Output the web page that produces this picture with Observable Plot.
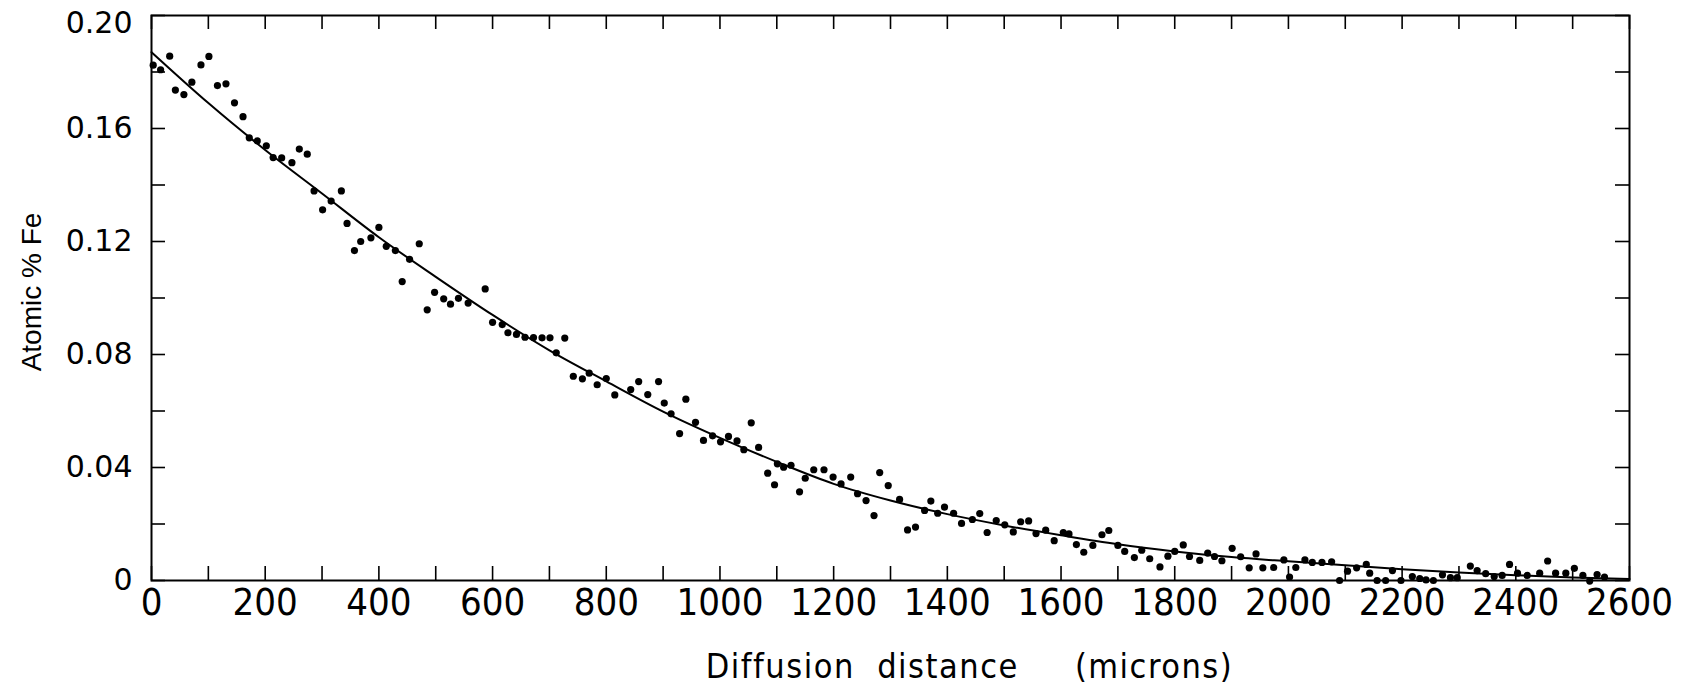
<!DOCTYPE html>
<html>
<head>
<meta charset="utf-8">
<script src="https://cdn.jsdelivr.net/npm/d3@7"></script>
<script src="https://cdn.jsdelivr.net/npm/@observablehq/plot@0.6"></script>
<style>
  html, body { margin: 0; padding: 0; background: #fff; }
  #chart svg { display: block; }
</style>
</head>
<body>
<div id="chart"></div>
<script>
// Measured points: diffusion distance (microns) and atomic % Fe
const distance = [3,16,32,42,57,71,87,101,116,131,146,161,172,186,202,214,229,247,260,274,286,301,316,334,344,357,368,386,400,413,429,441,454,471,485,498,514,526,540,557,587,600,617,627,642,657,672,687,701,712,727,742,758,770,784,800,815,843,857,873,892,902,914,929,940,957,971,987,1001,1015,1030,1042,1055,1068,1084,1096,1101,1112,1125,1140,1150,1165,1183,1199,1213,1230,1242,1257,1271,1281,1296,1316,1330,1344,1360,1371,1383,1395,1411,1425,1444,1457,1470,1486,1501,1516,1529,1543,1556,1573,1588,1604,1614,1627,1640,1656,1672,1684,1700,1712,1729,1742,1756,1774,1788,1800,1815,1826,1844,1858,1870,1883,1901,1916,1931,1943,1955,1974,1992,2002,2013,2029,2042,2059,2076,2090,2104,2120,2137,2143,2156,2171,2183,2198,2218,2231,2242,2255,2271,2285,2297,2320,2332,2347,2362,2376,2389,2403,2420,2442,2456,2470,2488,2503,2518,2530,2543,2556];
const atomicFe = [0.1824,0.1808,0.1856,0.1736,0.1720,0.1764,0.1825,0.1855,0.1752,0.1758,0.1691,0.1642,0.1567,0.1556,0.1539,0.1497,0.1496,0.1479,0.1527,0.1509,0.1379,0.1312,0.1343,0.1379,0.1264,0.1168,0.1200,0.1213,0.1250,0.1183,0.1168,0.1058,0.1137,0.1192,0.0958,0.1020,0.0997,0.0978,0.0999,0.0982,0.1032,0.0914,0.0906,0.0877,0.0871,0.0861,0.0860,0.0859,0.0859,0.0806,0.0858,0.0723,0.0714,0.0734,0.0693,0.0715,0.0657,0.0676,0.0704,0.0658,0.0704,0.0628,0.0590,0.0520,0.0642,0.0560,0.0496,0.0512,0.0491,0.0510,0.0494,0.0463,0.0558,0.0471,0.0380,0.0339,0.0413,0.0401,0.0408,0.0314,0.0362,0.0392,0.0392,0.0366,0.0342,0.0366,0.0307,0.0283,0.0230,0.0382,0.0336,0.0287,0.0179,0.0189,0.0248,0.0281,0.0238,0.0260,0.0238,0.0202,0.0216,0.0237,0.0170,0.0212,0.0197,0.0172,0.0208,0.0211,0.0166,0.0178,0.0141,0.0170,0.0165,0.0127,0.0100,0.0124,0.0162,0.0177,0.0124,0.0103,0.0081,0.0107,0.0077,0.0048,0.0086,0.0103,0.0126,0.0085,0.0071,0.0097,0.0085,0.0070,0.0114,0.0084,0.0045,0.0094,0.0045,0.0046,0.0073,0.0012,0.0046,0.0073,0.0064,0.0064,0.0066,0.0000,0.0033,0.0045,0.0057,0.0026,0.0000,0.0000,0.0035,0.0000,0.0014,0.0007,0.0002,0.0000,0.0020,0.0010,0.0010,0.0051,0.0035,0.0024,0.0014,0.0018,0.0057,0.0026,0.0018,0.0026,0.0069,0.0026,0.0026,0.0043,0.0018,-0.0002,0.0021,0.0012];

// Fitted curve
const curveDistance = [0,100,200,300,400,500,600,700,800,900,1000,1100,1200,1300,1400,1500,1600,1700,1800,1900,2000,2100,2200,2300,2400,2500,2600];
const curveFe = [0.1870,0.1690,0.1524,0.1370,0.1215,0.1075,0.0940,0.0815,0.0705,0.0598,0.0505,0.0420,0.0342,0.0283,0.0235,0.0195,0.0160,0.0128,0.0103,0.0083,0.0068,0.0054,0.0040,0.0028,0.0019,0.0011,0.0005];

// Axis ticks and labels
const xMinorTicks = d3.range(0, 2601, 100);
const xTickValues = [0,200,400,600,800,1000,1200,1400,1600,1800,2000,2200,2400,2600];
const yMinorTicks = [0,0.02,0.04,0.06,0.08,0.10,0.12,0.14,0.16,0.18,0.20];
const yTickValues = [0,0.04,0.08,0.12,0.16];
const yTickText = ["0","0.04","0.08","0.12","0.16"];
const yTopValue = [0.20];
const yTopText = "0.20";
const xTitle = "Diffusion  distance     (microns)";
const yTitle = "Atomic % Fe";

const points = distance.map((d, i) => ({x: d, y: atomicFe[i]}));
const curve = curveDistance.map((d, i) => ({x: d, y: curveFe[i]}));

const W = 1697, H = 690;
const mL = 151, mR = 68, mT = 15, mB = 110;
const innerW = W - mL - mR, innerH = H - mT - mB;
const tickLen = 14;
const condensed = "'Liberation Sans Narrow', 'DejaVu Sans Condensed', sans-serif";

const chart = Plot.plot({
  width: W,
  height: H,
  marginLeft: mL,
  marginRight: mR,
  marginTop: mT,
  marginBottom: mB,
  style: {background: "#fff", color: "#000", fontFamily: "'DejaVu Sans', sans-serif"},
  x: {domain: [0, 2600]},
  y: {domain: [0, 0.2]},
  marks: [
    // inward ticks on all four sides
    Plot.tickX(xMinorTicks, {x: d => d, insetTop: innerH - tickLen, stroke: "#000", strokeWidth: 1.6}),
    Plot.tickX(xMinorTicks, {x: d => d, insetBottom: innerH - tickLen, stroke: "#000", strokeWidth: 1.6}),
    Plot.tickY(yMinorTicks, {y: d => d, insetRight: innerW - tickLen, stroke: "#000", strokeWidth: 1.6}),
    Plot.tickY(yMinorTicks, {y: d => d, insetLeft: innerW - tickLen, stroke: "#000", strokeWidth: 1.6}),
    Plot.axisX(xTickValues, {
      tickSize: 0, tickPadding: 8, label: null,
      fontSize: 38, fontFamily: condensed,
      tickFormat: d => String(d)
    }),
    Plot.axisY(yTickValues, {
      tickSize: 0, tickPadding: 19, label: null,
      fontSize: 30, fontFamily: "'DejaVu Sans', sans-serif",
      tickFormat: d => yTickText[yTickValues.indexOf(d)]
    }),
    Plot.axisY(yTopValue, {
      tickSize: 0, tickPadding: 19, label: null, dy: 8,
      fontSize: 30, fontFamily: "'DejaVu Sans', sans-serif",
      tickFormat: () => yTopText
    }),
    Plot.frame({stroke: "#000", strokeWidth: 2}),
    Plot.line(curve, {x: "x", y: "y", curve: "monotone-x", stroke: "#000", strokeWidth: 2}),
    Plot.dot(points, {x: "x", y: "y", r: 3.6, fill: "#000", stroke: "none"}),
    Plot.text([xTitle], {
      text: d => d, frameAnchor: "bottom", dy: 87, dx: 79, lineAnchor: "middle", textAnchor: "middle",
      fontSize: 34, fontFamily: condensed,
      fill: "#000"
    }),
    Plot.text([yTitle], {
      text: d => d, frameAnchor: "left", dx: -119, dy: -6, rotate: -90, lineAnchor: "middle", textAnchor: "middle",
      fontSize: 28, fontFamily: "'Liberation Sans', sans-serif", fill: "#000"
    })
  ]
});
d3.select(chart).selectAll("text").style("white-space", "pre");
d3.select(chart).selectAll("text").filter(function() { return this.textContent === xTitle; }).style("letter-spacing", "1.5px");
document.getElementById("chart").appendChild(chart);
</script>
</body>
</html>
